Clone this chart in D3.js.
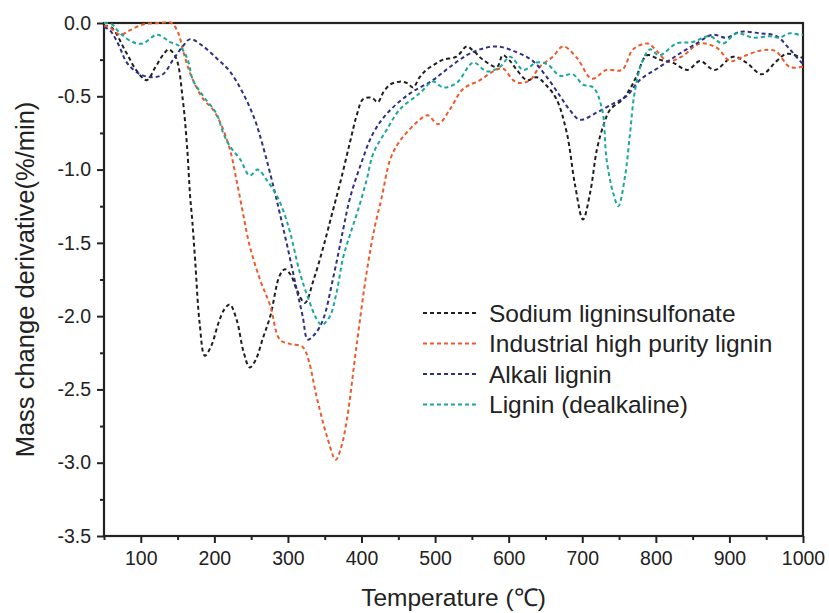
<!DOCTYPE html>
<html>
<head>
<meta charset="utf-8">
<script src="https://cdnjs.cloudflare.com/ajax/libs/d3/7.8.5/d3.min.js"></script>
<style>
  body { margin: 0; background: #fff; }
  svg text { font-family: "Liberation Sans", Arial, sans-serif; fill: #222; }
</style>
</head>
<body>
<div id="chart"></div>
<script>
// Series data: [temperature, mass change derivative]
var sodium = [[50,-0.02],[60,-0.03],[80,-0.2],[95,-0.33],[108,-0.39],[120,-0.3],[130,-0.22],[138,-0.18],[148,-0.24],[157,-0.52],[163,-0.85],[167,-1.18],[170,-1.35],[174,-1.63],[180,-2.05],[187,-2.27],[196,-2.2],[206,-2.04],[214,-1.95],[221,-1.92],[230,-2.02],[240,-2.25],[248,-2.35],[256,-2.3],[266,-2.15],[276,-2.0],[289,-1.72],[296,-1.68],[304,-1.72],[312,-1.82],[323,-1.91],[335,-1.75],[348,-1.53],[360,-1.3],[371,-1.09],[384,-0.82],[394,-0.62],[402,-0.52],[414,-0.51],[422,-0.54],[430,-0.47],[439,-0.42],[452,-0.4],[462,-0.41],[470,-0.44],[479,-0.37],[488,-0.32],[500,-0.28],[511,-0.25],[529,-0.23],[543,-0.16],[552,-0.19],[565,-0.25],[584,-0.3],[592,-0.22],[602,-0.26],[611,-0.32],[625,-0.39],[638,-0.37],[652,-0.43],[665,-0.52],[679,-0.75],[690,-1.1],[701,-1.34],[711,-1.15],[720,-0.86],[730,-0.68],[738,-0.59],[755,-0.52],[766,-0.44],[774,-0.36],[788,-0.22],[805,-0.25],[823,-0.27],[843,-0.32],[860,-0.26],[880,-0.32],[905,-0.23],[923,-0.27],[944,-0.35],[964,-0.26],[978,-0.21],[995,-0.23],[1000,-0.24]];

var industrial = [[50,-0.02],[58,-0.03],[72,-0.08],[85,-0.05],[103,-0.01],[126,0.0],[142,0.0],[151,-0.07],[157,-0.18],[164,-0.3],[171,-0.39],[185,-0.52],[198,-0.59],[208,-0.68],[221,-0.86],[230,-1.07],[239,-1.3],[248,-1.52],[262,-1.75],[276,-1.93],[289,-2.16],[303,-2.19],[320,-2.21],[328,-2.3],[339,-2.55],[353,-2.82],[365,-2.98],[372,-2.9],[380,-2.71],[393,-2.21],[407,-1.7],[418,-1.39],[427,-1.2],[439,-0.93],[450,-0.82],[461,-0.75],[479,-0.66],[490,-0.63],[504,-0.69],[520,-0.59],[538,-0.45],[561,-0.39],[579,-0.33],[592,-0.31],[606,-0.39],[615,-0.41],[629,-0.39],[642,-0.3],[660,-0.23],[674,-0.16],[693,-0.24],[713,-0.38],[733,-0.32],[754,-0.32],[769,-0.18],[789,-0.14],[801,-0.19],[816,-0.26],[835,-0.23],[860,-0.14],[883,-0.17],[901,-0.26],[918,-0.23],[941,-0.19],[962,-0.19],[982,-0.3],[998,-0.3],[1000,-0.3]];

var alkali = [[50,-0.03],[58,-0.05],[70,-0.15],[81,-0.27],[99,-0.35],[117,-0.37],[130,-0.35],[144,-0.25],[157,-0.16],[167,-0.11],[185,-0.16],[203,-0.24],[221,-0.33],[239,-0.48],[255,-0.66],[266,-0.84],[280,-1.11],[289,-1.3],[299,-1.52],[312,-1.82],[320,-2.0],[327,-2.16],[337,-2.12],[348,-2.02],[361,-1.75],[375,-1.41],[384,-1.2],[398,-0.98],[416,-0.75],[436,-0.61],[466,-0.48],[497,-0.39],[520,-0.3],[543,-0.22],[561,-0.18],[584,-0.16],[611,-0.2],[633,-0.26],[652,-0.37],[670,-0.5],[684,-0.6],[697,-0.66],[720,-0.61],[742,-0.55],[760,-0.5],[778,-0.39],[805,-0.3],[832,-0.21],[855,-0.14],[877,-0.08],[896,-0.1],[914,-0.06],[941,-0.07],[964,-0.09],[982,-0.18],[998,-0.27],[1000,-0.28]];

var dealkaline = [[50,0.0],[61,-0.01],[72,-0.07],[89,-0.13],[103,-0.14],[122,-0.08],[140,-0.13],[153,-0.16],[163,-0.24],[171,-0.39],[185,-0.5],[203,-0.62],[212,-0.75],[221,-0.84],[235,-0.93],[248,-1.04],[259,-1.0],[271,-1.07],[285,-1.18],[295,-1.3],[303,-1.43],[316,-1.7],[327,-1.87],[339,-2.02],[346,-2.06],[357,-2.0],[366,-1.84],[375,-1.6],[384,-1.45],[395,-1.28],[407,-1.07],[416,-0.89],[434,-0.73],[452,-0.59],[479,-0.48],[497,-0.4],[511,-0.44],[529,-0.41],[552,-0.27],[570,-0.33],[588,-0.3],[602,-0.23],[620,-0.32],[638,-0.27],[652,-0.28],[670,-0.36],[687,-0.35],[701,-0.42],[715,-0.44],[727,-0.59],[733,-0.93],[742,-1.16],[749,-1.25],[758,-1.05],[765,-0.75],[771,-0.48],[781,-0.27],[792,-0.18],[805,-0.22],[828,-0.14],[850,-0.13],[873,-0.09],[891,-0.14],[910,-0.07],[932,-0.1],[955,-0.09],[968,-0.1],[982,-0.07],[995,-0.08],[1000,-0.08]];

var seriesNames = ["Sodium ligninsulfonate", "Industrial high purity lignin", "Alkali lignin", "Lignin (dealkaline)"];
var seriesData = [sodium, industrial, alkali, dealkaline];
var seriesColors = ["#1e1e1e", "#ee5a2b", "#2d3088", "#1aa89b"];

var xTicks = [100, 200, 300, 400, 500, 600, 700, 800, 900, 1000];
var xMinor = [50, 150, 250, 350, 450, 550, 650, 750, 850, 950];
var yTicks = [0, -0.5, -1.0, -1.5, -2.0, -2.5, -3.0, -3.5];
var yMinor = [-0.25, -0.75, -1.25, -1.75, -2.25, -2.75, -3.25];

var width = 829, height = 613;
var margin = {left: 104, top: 23, right: 26, bottom: 77};
var plotW = width - margin.left - margin.right;
var plotH = height - margin.top - margin.bottom;

var svg = d3.select("#chart").append("svg")
    .attr("width", width)
    .attr("height", height);

var x = d3.scaleLinear().domain([50, 1000]).range([0, plotW]);
var y = d3.scaleLinear().domain([-3.5, 0]).range([plotH, 0]);

var g = svg.append("g").attr("transform", "translate(" + margin.left + "," + margin.top + ")");

//Minor ticks first, then major ticks with labels
g.append("g").attr("transform", "translate(0," + plotH + ")")
    .call(d3.axisBottom(x).tickValues(xMinor).tickSize(4).tickFormat(""))
    .call(function(s) { s.select(".domain").remove(); s.selectAll("line").attr("stroke", "#222").attr("stroke-width", 2); });
g.append("g").call(d3.axisLeft(y).tickValues(yMinor).tickSize(4).tickFormat(""))
    .call(function(s) { s.select(".domain").remove(); s.selectAll("line").attr("stroke", "#222").attr("stroke-width", 2); });

//Plain hyphen for the minus sign, like the original
var fmtY = function(d) { return d3.format(".1f")(d).replace("\u2212", "-"); };

var xAxis = g.append("g").attr("transform", "translate(0," + plotH + ")")
    .call(d3.axisBottom(x).tickValues(xTicks).tickSize(7).tickPadding(8).tickFormat(d3.format("d")));
var yAxis = g.append("g")
    .call(d3.axisLeft(y).tickValues(yTicks).tickSize(7).tickPadding(6).tickFormat(fmtY));

[xAxis, yAxis].forEach(function(a) {
    a.select(".domain").remove();
    a.selectAll("line").attr("stroke", "#222").attr("stroke-width", 2);
    a.selectAll("text").style("font-size", "19.5px").attr("fill", "#222");
});

//Frame
g.append("rect")
    .attr("x", 0).attr("y", 0)
    .attr("width", plotW).attr("height", plotH)
    .attr("fill", "none").attr("stroke", "#222").attr("stroke-width", 2.2);

//Lines
var line = d3.line()
    .x(function(d) { return x(d[0]); })
    .y(function(d) { return y(d[1]); })
    .curve(d3.curveCatmullRom.alpha(0.5));

seriesData.forEach(function(data, i) {
    g.append("path")
        .datum(data)
        .attr("fill", "none")
        .attr("stroke", seriesColors[i])
        .attr("stroke-width", 2)
        .attr("stroke-dasharray", "4,3")
        .attr("d", line);
});

//Legend
var legend = svg.append("g").attr("transform", "translate(423,313)");
seriesNames.forEach(function(name, i) {
    var row = legend.append("g").attr("transform", "translate(0," + (i * 30.5) + ")");
    row.append("line")
        .attr("x1", 0).attr("x2", 55)
        .attr("stroke", seriesColors[i])
        .attr("stroke-width", 2.2)
        .attr("stroke-dasharray", "4,3");
    row.append("text")
        .attr("x", 66).attr("y", 0)
        .attr("dy", "0.36em")
        .style("font-size", "24.5px")
        .text(name);
});

//Axis titles
svg.append("text")
    .attr("x", margin.left + plotW / 2)
    .attr("y", 606)
    .attr("text-anchor", "middle")
    .style("font-size", "24.5px")
    .text("Temperature (℃)");

svg.append("text")
    .attr("transform", "translate(34," + (margin.top + plotH / 2) + ") rotate(-90)")
    .attr("text-anchor", "middle")
    .style("font-size", "25.5px")
    .text("Mass change derivative(%/min)");
</script>
</body>
</html>
